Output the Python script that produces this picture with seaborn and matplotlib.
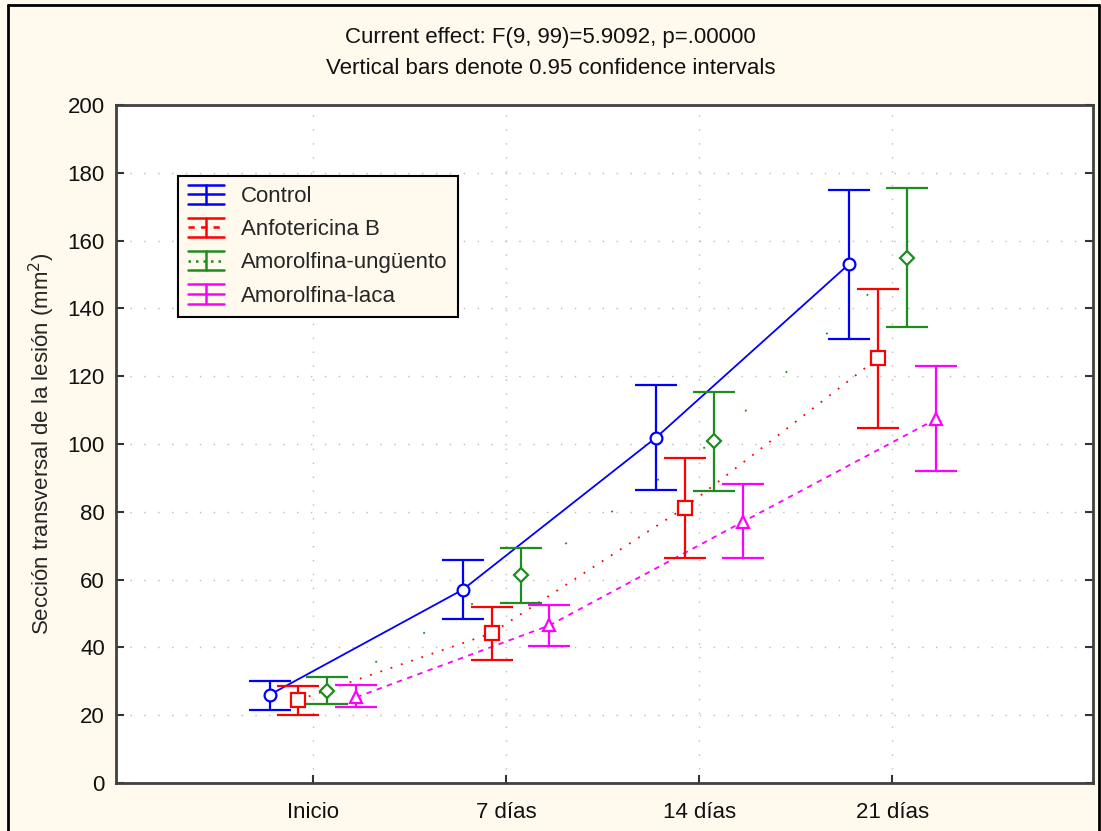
import matplotlib
matplotlib.use("Agg")
import matplotlib.pyplot as plt
import seaborn as sns
import numpy as np
import pandas as pd
from matplotlib.lines import Line2D
from matplotlib.legend_handler import HandlerBase

times = ["Inicio", "7 días", "14 días", "21 días"]
groups = ["Control", "Anfotericina B", "Amorolfina-ungüento", "Amorolfina-laca"]

control_mean = [26.0, 57.0, 101.8, 153.0]
control_low = [21.5, 48.5, 86.3, 131.0]
control_high = [30.0, 65.7, 117.5, 175.0]

anfo_mean = [24.5, 44.2, 81.2, 125.3]
anfo_low = [20.0, 36.2, 66.4, 104.6]
anfo_high = [28.6, 52.0, 95.8, 145.8]

ung_mean = [27.1, 61.4, 100.8, 155.0]
ung_low = [23.2, 53.2, 86.0, 134.6]
ung_high = [31.2, 69.3, 115.3, 175.6]

laca_mean = [25.3, 46.5, 77.0, 107.3]
laca_low = [22.3, 40.5, 66.3, 92.0]
laca_high = [28.8, 52.5, 88.3, 123.0]

yticks = list(range(0, 201, 20))

means = [control_mean, anfo_mean, ung_mean, laca_mean]
lows = [control_low, anfo_low, ung_low, laca_low]
highs = [control_high, anfo_high, ung_high, laca_high]

colors = ["#0000FF", "#FF0000", "#1E8C1E", "#FF00FF"]
offsets = [-0.225, -0.075, 0.075, 0.225]
markers = ["o", "s", "D", "^"]
msizes = [8.5, 9.5, 7, 8]
linestyles = ["-", (0, (1, 5)), (0, (1, 30)), (0, (3, 3))]
legend_ls = ["-", (0, (2.5, 2.5)), (0, (1, 2)), "-"]


class ErrHandle:
    def __init__(self, color, ls):
        self.color = color
        self.ls = ls


class ErrHandler(HandlerBase):
    def create_artists(self, legend, orig_handle, xdescent, ydescent, width, height, fontsize, trans):
        c = orig_handle.color
        x0, x1 = -xdescent, -xdescent + width
        xm = (x0 + x1) / 2
        yc = -ydescent + height / 2
        h = height * 0.62
        arts = [
            Line2D([x0, x1], [yc + h, yc + h], color=c, lw=1.8),
            Line2D([x0, x1], [yc - h, yc - h], color=c, lw=1.8),
            Line2D([x0, x1], [yc, yc], color=c, lw=1.8, ls=orig_handle.ls),
            Line2D([xm, xm], [yc - h, yc + h], color=c, lw=1.8),
        ]
        for a in arts:
            a.set_transform(trans)
        return arts


sns.set_theme(style="white")
plt.rcParams["font.family"] = ["Liberation Sans", "DejaVu Sans"]

bg = "#FFF9EE"
fig = plt.figure(figsize=(11.01, 8.31), dpi=100, facecolor=bg)
ax = fig.add_axes([116 / 1101, 1 - 783 / 831, (1093 - 116) / 1101, (783 - 105) / 831])
ax.set_facecolor("white")

rows = []
for g, m, lo, hi in zip(groups, means, lows, highs):
    for i, t in enumerate(times):
        rows.append({"group": g, "time": t, "idx": i, "mean": m[i], "low": lo[i], "high": hi[i]})
df = pd.DataFrame(rows)

# grid
for y in yticks[1:]:
    ax.axhline(y, color="#BBBBBB", lw=1.0, ls=(0, (1, 9)), zorder=0)
for i in range(len(times)):
    ax.axvline(i, color="#BBBBBB", lw=1.0, ls=(0, (1, 9)), zorder=0)

handles = []
for k, g in enumerate(groups):
    sub = df[df["group"] == g].copy()
    sub["x"] = sub["idx"] + offsets[k]
    sns.lineplot(data=sub, x="x", y="mean", ax=ax, color=colors[k], linestyle=linestyles[k],
                 lw=1.3, zorder=2, legend=False, sort=False)
    yerr = np.vstack([sub["mean"] - sub["low"], sub["high"] - sub["mean"]])
    ax.errorbar(sub["x"], sub["mean"], yerr=yerr, fmt="none", ecolor=colors[k],
                elinewidth=1.6, capsize=15, capthick=1.6, zorder=3)
    ax.plot(sub["x"], sub["mean"], ls="none", marker=markers[k], ms=msizes[k],
            mfc="white", mec=colors[k], mew=1.6, zorder=4)
    handles.append(ErrHandle(colors[k], legend_ls[k]))

leg = ax.legend(handles, groups, loc="upper left",
                bbox_to_anchor=(178 / 1101, 1 - 176 / 831), bbox_transform=fig.transFigure,
                borderaxespad=0, fontsize=16, frameon=True, fancybox=False,
                handler_map={ErrHandle: ErrHandler()},
                handlelength=1.6, handletextpad=0.8, labelspacing=0.55,
                borderpad=0.45)
leg.get_frame().set_facecolor(bg)
leg.get_frame().set_edgecolor("black")
leg.get_frame().set_linewidth(1.5)
leg.get_frame().set_alpha(1)

ax.set_xlim(-1.02, 4.04)
ax.set_ylim(0, 200)
ax.set_xticks(range(len(times)))
ax.set_xticklabels(times)
ax.set_yticks(yticks)
ax.tick_params(axis="both", direction="in", length=6, width=1.5, color="#333333",
               labelsize=16, pad=8, left=True, bottom=True, right=True, labelcolor="#111111")
ax.tick_params(axis="x", pad=14)
for s in ax.spines.values():
    s.set_visible(True)
    s.set_color("#404040")
    s.set_linewidth(2)
ax.set_xlabel("")
ax.set_ylabel("Sección transversal de la lesión (mm$^2$)", fontsize=16, labelpad=8)

fig.text(0.5, 1 - 38 / 831, "Current effect: F(9, 99)=5.9092, p=.00000", ha="center", va="center",
         fontsize=16, color="#111111")
fig.text(0.5, 1 - 68 / 831, "Vertical bars denote 0.95 confidence intervals", ha="center",
         va="center", fontsize=16, color="#111111")

# figure border
x0, x1, y0 = 8 / 1101, 1099 / 1101, 1 - 5 / 831
fig.add_artist(Line2D([x0, x0], [0, y0], transform=fig.transFigure, color="black", lw=2))
fig.add_artist(Line2D([x0, x1], [y0, y0], transform=fig.transFigure, color="black", lw=2))
fig.add_artist(Line2D([x1, x1], [0, y0], transform=fig.transFigure, color="black", lw=2))

fig.savefig("out.png", dpi=100, facecolor=bg)
